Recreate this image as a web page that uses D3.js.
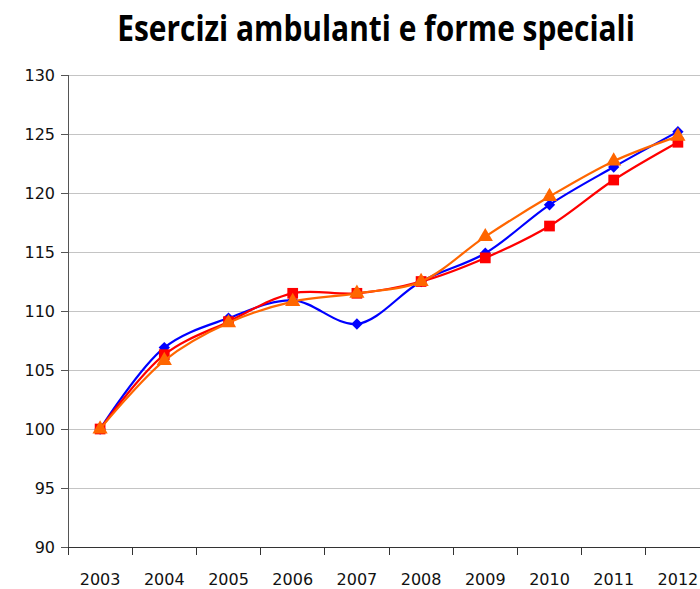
<!DOCTYPE html>
<html><head><meta charset="utf-8">
<script src="https://cdn.jsdelivr.net/npm/d3@7"></script>
<style>body{margin:0;background:#fff}svg{display:block}</style>
</head><body>
<svg id="chart" width="700" height="589"></svg>
<script>
(function(){
const title = "Esercizi ambulanti e forme speciali";
const years = ["2003","2004","2005","2006","2007","2008","2009","2010","2011","2012"];
const yTicks = [90,95,100,105,110,115,120,125,130];
const blueSeries = [100,106.9,109.4,110.9,108.9,112.5,114.9,119.0,122.2,125.2];
const redSeries = [100,106.3,109.1,111.5,111.5,112.5,114.5,117.2,121.1,124.3];
const orangeSeries = [100,105.8,109.0,110.8,111.5,112.5,116.3,119.7,122.7,124.8];
const seriesList = [
  {values: blueSeries, color: "#0000ff", symbol: d3.symbolSquare, size: 64, rot: 45},
  {values: redSeries, color: "#ff0000", symbol: d3.symbolSquare, size: 115, rot: 0},
  {values: orangeSeries, color: "#ff6600", symbol: d3.symbolTriangle, size: 100, rot: 0}
];

const svg = d3.select("#chart");
const mLeft = 68, mTop = 75, mBottom = 547, band = 64.2;
const x = d3.scaleBand().domain(years).range([mLeft, mLeft + band * years.length]);
const y = d3.scaleLinear().domain([90,130]).range([mBottom, mTop]);

const tg = svg.append("g");
const tt = tg.append("text").attr("x", 0).attr("y", 0).attr("text-anchor","middle")
  .attr("font-family","'Open Sans', 'DejaVu Sans', sans-serif").attr("font-weight","bold")
  .attr("font-size", 36).attr("fill","#000").text(title);
const natW = tt.node().getComputedTextLength();
tg.attr("transform", `translate(376,41) scale(${518 / natW},1)`);

svg.append("g").selectAll("line").data(yTicks.filter(t => t > 90)).join("line")
  .attr("x1", mLeft).attr("x2", 700).attr("y1", d => y(d)).attr("y2", d => y(d))
  .attr("stroke","#c4c4c4").attr("stroke-width",1).attr("shape-rendering","crispEdges");

const yAxis = svg.append("g").attr("transform", `translate(${mLeft},0)`)
  .call(d3.axisLeft(y).tickValues(yTicks).tickSize(7).tickPadding(6));
yAxis.select(".domain").attr("stroke","#555").attr("shape-rendering","crispEdges");
yAxis.selectAll(".tick line").attr("stroke","#555").attr("shape-rendering","crispEdges");
yAxis.selectAll("text").attr("font-family","'DejaVu Sans', sans-serif").attr("font-size",16).attr("fill","#111");

const xAxis = svg.append("g").attr("transform", `translate(0,${mBottom})`)
  .call(d3.axisBottom(x).tickSize(0).tickPadding(27));
xAxis.select(".domain").attr("stroke","#333").attr("stroke-width",1.2).attr("shape-rendering","crispEdges");
xAxis.selectAll("text").attr("font-family","'DejaVu Sans', sans-serif").attr("font-size",16).attr("fill","#111");
svg.append("g").selectAll("line").data(years).join("line")
  .attr("x1", d => x(d)).attr("x2", d => x(d)).attr("y1", mBottom).attr("y2", mBottom + 8)
  .attr("stroke","#333").attr("shape-rendering","crispEdges");

const cx = d => x(d) + x.bandwidth() / 2;
const line = d3.line().x((d,i) => cx(years[i])).y(d => y(d)).curve(d3.curveCatmullRom.alpha(0.5));

seriesList.forEach(s => {
  const g = svg.append("g");
  g.append("path").attr("d", line(s.values)).attr("fill","none")
    .attr("stroke", s.color).attr("stroke-width", 2.2);
  g.selectAll("path.m").data(s.values).join("path").attr("class","m")
    .attr("transform", (d,i) => `translate(${cx(years[i])},${y(d)}) rotate(${s.rot})`)
    .attr("d", d3.symbol().type(s.symbol).size(s.size)).attr("fill", s.color);
});
})();
</script>
</body></html>
